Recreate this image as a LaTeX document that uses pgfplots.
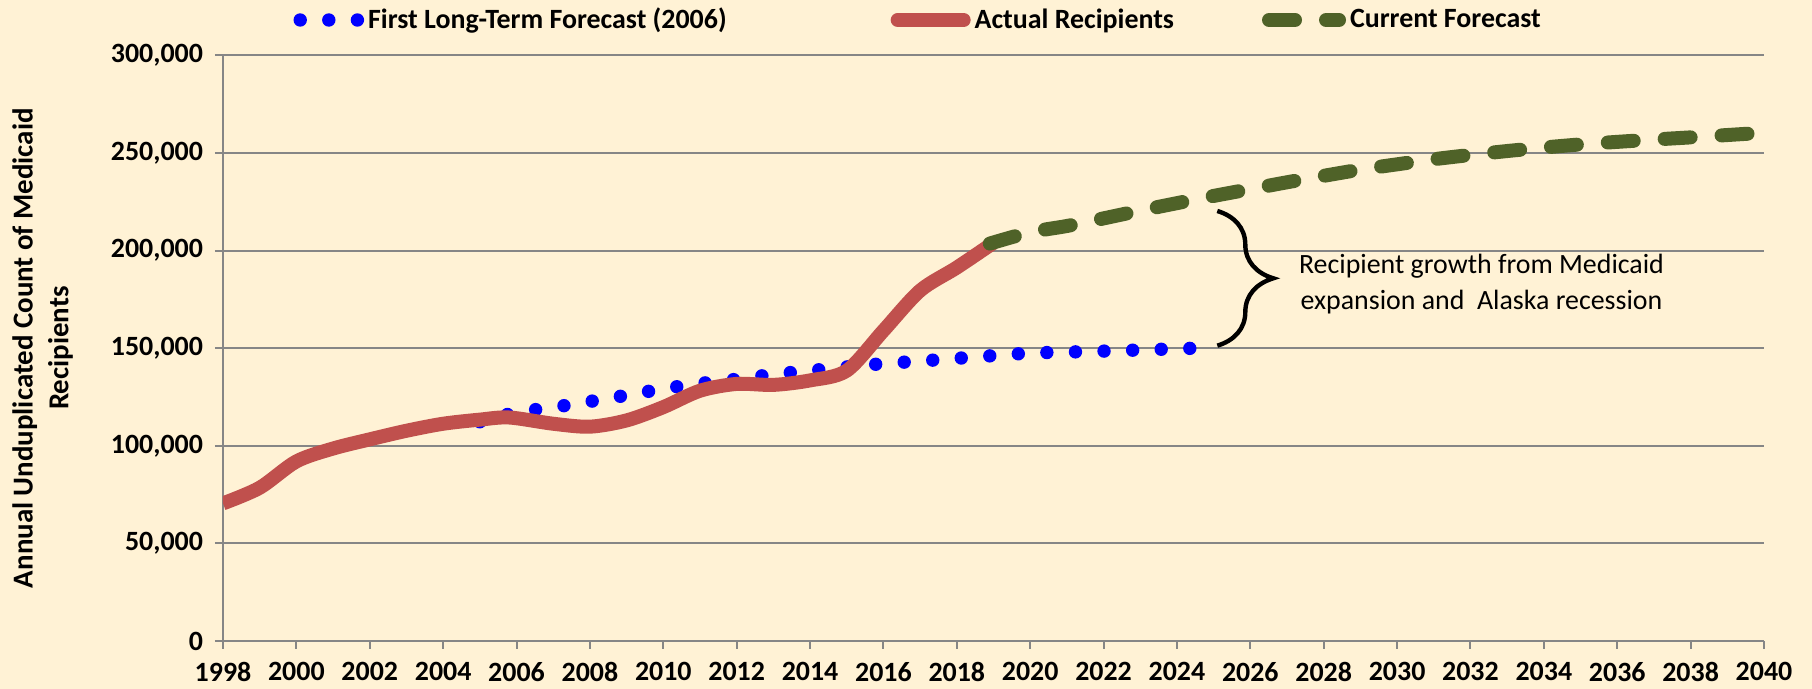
\documentclass[border=0pt]{standalone}
\usepackage{pgfplots}
\pgfplotsset{compat=1.18}
\usepackage{fontspec}
\setmainfont{Carlito}
\usetikzlibrary{decorations.pathreplacing,backgrounds}

\definecolor{bg}{RGB}{255,242,213}
\definecolor{gridgray}{RGB}{134,134,134}
\definecolor{actred}{RGB}{192,80,77}
\definecolor{curgreen}{RGB}{79,98,40}
\definecolor{firstblue}{RGB}{0,0,255}

\pgfplotsset{
  legdots/.style={legend image code/.code={\draw[##1] (0bp,0bp) -- (28.6bp,0bp);}},
  legsolid/.style={legend image code/.code={\draw[##1, line cap=round] (0bp,0bp) -- (33bp,0bp);}},
  legdash/.style={legend image code/.code={\draw[##1] (0bp,0bp) -- (35bp,0bp);}},
}

\begin{document}
\begin{tikzpicture}
\begin{axis}[
  scale only axis, width=770.5bp, height=292.8bp,
  xmin=1998, xmax=2040, ymin=0, ymax=300000,
  xtick={1998,2000,...,2040},
  ytick={0,50000,...,300000},
  scaled y ticks=false,
  axis x line*=bottom, axis y line*=left,
  axis line style={gridgray, line width=1bp},
  tick align=outside, major tick length=4bp,
  tick style={gridgray, line width=1bp},
  ymajorgrids, grid style={gridgray, line width=1bp},
  /pgf/number format/assume math mode=true,
  ticklabel style={font=\fontsize{14}{16}\selectfont\bfseries},
  xticklabel style={/pgf/number format/fixed, /pgf/number format/1000 sep={}, yshift=-3bp},
  yticklabel style={/pgf/number format/fixed, /pgf/number format/precision=0,
                    /pgf/number format/1000 sep={,}, xshift=-2.5bp},
  ylabel={Annual Unduplicated Count of Medicaid\\Recipients},
  every axis y label/.style={at={(axis description cs:-0.117,0.5)}, rotate=90,
    anchor=center, align=center, font=\fontsize{14.5}{18}\selectfont\bfseries},
  legend columns=3,
  legend style={at={(axis description cs:0.0455,1)}, anchor=west, yshift=17.7bp,
    draw=none, fill=none, inner sep=0pt,
    font=\fontsize{14}{16}\selectfont\bfseries,
    /tikz/column 2/.style={column sep=80bp},
    /tikz/column 4/.style={column sep=42bp}},
  legend cell align=left,
]

% first long-term forecast (2006), drawn as a round-dotted line
\addplot[firstblue, line width=6.7bp, line cap=round, dash pattern=on 0pt off 14.3bp, smooth, legdots]
  coordinates {(2005,112300) (2006,117100) (2007,119700) (2008,122700) (2009,125900)
               (2010,129200) (2011,131900) (2012,134100) (2013,136600) (2014,138500)
               (2015,140400) (2016,142100) (2017,143400) (2018,144800) (2019,146200)
               (2020,147500) (2021,148000) (2022,148500) (2023,149100) (2024,149700)
               (2024.5,150000)};
\addlegendentry{First Long-Term Forecast (2006)}

% actual recipients
\addplot[actred, line width=7bp, line join=round, smooth, legsolid]
  coordinates {(1998,70500) (1999,78500) (2000,92000) (2001,98600) (2002,103300)
               (2003,107700) (2004,111300) (2005,113400) (2005.8,114500) (2007,111300)
               (2008,109800) (2009,113000) (2010,119800) (2011,128200) (2012,131700)
               (2013,131200) (2014,133500) (2015,138500) (2016,159000) (2017,179500)
               (2018,191300) (2019,204000)};
\addlegendentry{Actual Recipients}

% current forecast
\addplot[curgreen, line width=7bp, line cap=round, dash pattern=on 13bp off 15.5bp, smooth, legdash]
  coordinates {(2018.9,203600) (2020,209400) (2021,212600) (2022,216500) (2023,220500)
               (2024,224300) (2025,228000) (2026,231500) (2027,235000) (2028,238300)
               (2029,241500) (2030,244200) (2031,246800) (2032,249000) (2033,251000)
               (2034,252800) (2035,254400) (2036,255700) (2037,256900) (2038,258000)
               (2039,259200) (2040,260400)};
\addlegendentry{Current Forecast}

\draw[decorate, decoration={brace, amplitude=28bp}, line width=2.2bp, black]
  (axis cs:2025.1,220300) -- (axis cs:2025.1,151300);
\node[align=center, font=\fontsize{14}{17.8}\selectfont]
  at (axis cs:2032.3,182900) {Recipient growth from Medicaid\\expansion and\ \ Alaska recession};
\end{axis}
\pgfresetboundingbox
\path (current axis.south west) ++(-111.5bp,-24bp) coordinate (bl);
\path (current axis.north east) ++(24bp,27.7bp) coordinate (tr);
\useasboundingbox (bl) rectangle (tr);
\begin{scope}[on background layer]
  \fill[bg] (bl) rectangle (tr);
\end{scope}
\end{tikzpicture}
\end{document}
